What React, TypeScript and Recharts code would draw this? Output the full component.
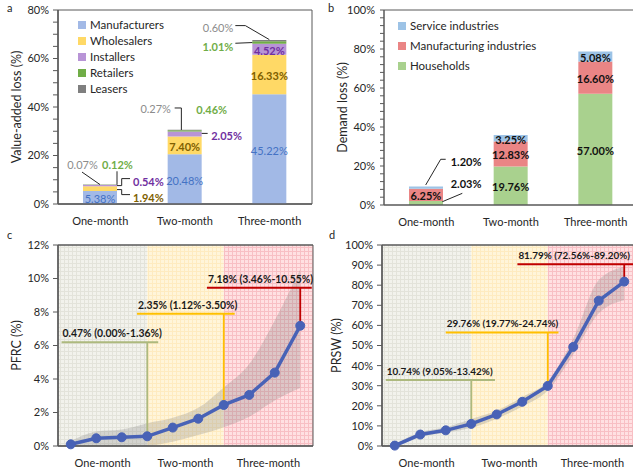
import React from 'react';
import {
  BarChart, Bar, XAxis, YAxis, LabelList, Legend, ReferenceArea, ReferenceLine,
  ComposedChart, Line, Area,
} from 'recharts';

const FONT = 'Lato, "Open Sans", sans-serif';
const AXIS = '#595959';
const TXT = '#262626';

// ---------- Panel a: value-added loss ----------
const periods = ['One-month', 'Two-month', 'Three-month'];
const manufacturers = [5.38, 20.48, 45.22];
const wholesalers = [1.94, 7.4, 16.33];
const installers = [0.54, 2.05, 4.52];
const retailers = [0.12, 0.46, 1.01];
const leasers = [0.07, 0.27, 0.6];
const aTicks = [0, 5, 10, 15, 20, 25, 30, 35, 40, 45, 50, 55, 60, 65, 70, 75, 80];
const aMajor = [0, 20, 40, 60, 80];

// ---------- Panel b: demand loss ----------
const households = [2.03, 19.76, 57.0];
const manufacturingInd = [6.25, 12.83, 16.6];
const serviceInd = [1.2, 3.25, 5.08];
const bTicks = [0, 4, 8, 12, 16, 20, 24, 28, 32, 36, 40, 44, 48, 52, 56, 60, 64, 68, 72, 76, 80, 84, 88, 92, 96, 100];
const bMajor = [0, 20, 40, 60, 80, 100];

// ---------- Panels c, d ----------
const days = [0, 10, 20, 30, 40, 50, 60, 70, 80, 90];
const pfrc = [0.1, 0.46, 0.52, 0.58, 1.1, 1.63, 2.45, 3.05, 4.38, 7.18];
const pfrcLow = [0, 0, 0, 0.02, 0.26, 0.65, 1.12, 1.75, 2.72, 3.46];
const pfrcHigh = [0.3, 0.86, 0.98, 1.36, 1.68, 2.28, 3.5, 4.9, 7.5, 10.55];
const prsw = [0.2, 5.7, 7.8, 11.0, 15.7, 22.0, 29.9, 49.3, 72.3, 81.79];
const prswLow = [0, 4.6, 6.6, 9.05, 13.6, 19.6, 27.6, 45.5, 66.0, 72.56];
const prswHigh = [0.8, 6.8, 9.3, 13.42, 17.6, 24.4, 32.3, 53.5, 82.6, 89.2];
const cTicks = [0, 2, 4, 6, 8, 10, 12];
const dTicks = [0, 10, 20, 30, 40, 50, 60, 70, 80, 90, 100];
const periodBounds = [-5, 30, 60, 95];
const pfrcSummary = ['0.47% (0.00%-1.36%)', '2.35% (1.12%-3.50%)', '7.18% (3.46%-10.55%)'];
const prswSummary = ['10.74% (9.05%-13.42%)', '29.76% (19.77%-24.74%)', '81.79% (72.56%-89.20%)'];
const summaryIdx = [3, 6, 9];

const aData = periods.map((p, i) => ({
  period: p, manufacturers: manufacturers[i], wholesalers: wholesalers[i],
  installers: installers[i], retailers: retailers[i], leasers: leasers[i],
}));
const bData = periods.map((p, i) => ({
  period: p, households: households[i], manufacturing: manufacturingInd[i], service: serviceInd[i],
}));
const cData = days.map((d, i) => ({ day: d, v: pfrc[i], band: [pfrcLow[i], pfrcHigh[i]] }));
const dData = days.map((d, i) => ({ day: d, v: prsw[i], band: [prswLow[i], prswHigh[i]] }));

// ---------- styling config ----------
type Ext = { t: [number, number]; anchor: 'start' | 'middle' | 'end'; path?: [number, number][] } | null;

function makeBarLabel(values: number[], color: string, weight: number, ext: Ext[], lineColor = '#262626') {
  return (props: any) => {
    const vb = props.viewBox && props.viewBox.width !== undefined ? props.viewBox : props;
    const x = Number(vb.x), y = Number(vb.y), w = Number(vb.width), h = Number(vb.height);
    const idx = Number(props.index);
    const cx = x + w / 2;
    const cy = y + h / 2;
    const txt = values[idx].toFixed(2) + '%';
    const e = ext[idx];
    const style = { fontFamily: FONT, fontSize: 11, fontWeight: weight };
    if (!e) {
      return (
        <text x={cx} y={cy + 1} textAnchor="middle" dominantBaseline="central" fill={color} style={style}>{txt}</text>
      );
    }
    const pts = e.path ? e.path.map(([dx, dy]) => `${cx + dx},${cy + dy}`).join(' ') : '';
    return (
      <g>
        {e.path && <polyline points={pts} fill="none" stroke={lineColor} strokeWidth={1} />}
        <text x={cx + e.t[0]} y={cy + e.t[1]} textAnchor={e.anchor} dominantBaseline="central" fill={color} style={style}>{txt}</text>
      </g>
    );
  };
}

const aSeries = [
  { key: 'manufacturers', name: 'Manufacturers', values: manufacturers, fill: '#a2b9e6', color: '#4472c4', weight: 400,
    ext: [null, null, null] as Ext[] },
  { key: 'wholesalers', name: 'Wholesalers', values: wholesalers, fill: '#ffd966', color: '#806000', weight: 700,
    ext: [{ t: [33, 8.5], anchor: 'start', path: [[17, 1], [21.7, 1], [21.7, 6], [30, 6]] }, null, null] as Ext[] },
  { key: 'installers', name: 'Installers', values: installers, fill: '#b894d6', color: '#7030a0', weight: 700,
    ext: [{ t: [33, -4.5], anchor: 'start', path: [[17, 0], [21.7, 0], [21.7, -7], [30, -7]] },
      { t: [26.5, 2], anchor: 'start', path: [[17, -0.5], [23, -0.5]] }, null] as Ext[] },
  { key: 'retailers', name: 'Retailers', values: retailers, fill: '#70ad47', color: '#70ad47', weight: 700,
    ext: [{ t: [17.5, -20.5], anchor: 'middle', path: [[17, -13.5], [17, 0]] },
      { t: [27, -21.5], anchor: 'middle' },
      { t: [-36, 3.5], anchor: 'end', path: [[-34, 0.7], [-17, 0]] }] as Ext[] },
  { key: 'leasers', name: 'Leasers', values: leasers, fill: '#7f7f7f', color: '#8c8c8c', weight: 400,
    ext: [{ t: [-17.5, -20.5], anchor: 'middle', path: [[-18, -12.5], [0, 0]] },
      { t: [-29, -21], anchor: 'middle', path: [[-10, -22], [-3.3, -22], [-3.3, 0]] },
      { t: [-36, -13.3], anchor: 'end', path: [[-34, -15], [-24, -15], [0, -1]] }] as Ext[] },
];

const bSeries = [
  { key: 'households', name: 'Households', values: households, fill: '#a9d18e',
    ext: [{ t: [24.7, -20], anchor: 'start', path: [[16.3, -1.3], [36.3, -9.7]] }, null, null] as Ext[] },
  { key: 'manufacturing', name: 'Manufacturing industries', values: manufacturingInd, fill: '#ea8585',
    ext: [null, null, null] as Ext[] },
  { key: 'service', name: 'Service industries', values: serviceInd, fill: '#9dc3e6',
    ext: [{ t: [24.7, -26], anchor: 'start', path: [[-0.3, -2.7], [14.7, -28.4], [19.7, -28.4]] }, null, null] as Ext[] },
];

const tickStyle = { fontFamily: FONT, fontSize: 11, fill: TXT };

function yTitle(text: string, dx: number) {
  return (props: any) => {
    const vb = props.viewBox;
    const cx = vb.x + dx;
    const cy = vb.y + vb.height / 2;
    return (
      <text x={cx} y={cy} transform={`rotate(-90, ${cx}, ${cy})`} textAnchor="middle" dominantBaseline="central"
        style={{ fontFamily: FONT, fontSize: 12.5, fill: TXT }}>{text}</text>
    );
  };
}

function LegendBox({ items, gap }: { items: { name: string; fill: string }[]; gap: number }) {
  return (
    <div style={{ fontFamily: FONT, fontSize: 11.5, color: TXT, lineHeight: `${gap}px` }}>
      {items.map((it) => (
        <div key={it.name} style={{ display: 'flex', alignItems: 'center', height: gap }}>
          <span style={{ display: 'inline-block', width: 8, height: 8, background: it.fill, marginRight: 4 }} />
          <span>{it.name}</span>
        </div>
      ))}
    </div>
  );
}

function PanelLetter({ ch, x, y }: { ch: string; x: number; y: number }) {
  return (
    <div style={{ position: 'absolute', left: x, top: y, fontFamily: FONT, fontSize: 11, color: TXT, lineHeight: '12px' }}>{ch}</div>
  );
}

function annoLabel(text: string, size: number) {
  return (props: any) => {
    const vb = props.viewBox || {};
    return (
      <text x={vb.x + 1} y={vb.y - 5} style={{ fontFamily: FONT, fontSize: size, fontWeight: 700, fill: '#1a1a1a' }}>{text}</text>
    );
  };
}

const annoColors = ['#adb97e', '#ffc000', '#c00000'];
const cAnno = [
  { y: 6.2, x1: -3.6, x2: 34.3 },
  { y: 7.9, x1: 26, x2: 64.3 },
  { y: 9.45, x1: 53.4, x2: 94.5 },
];
const dAnno = [
  { y: 32.8, x1: -3.5, x2: 39.3 },
  { y: 56.5, x1: 20, x2: 64.2 },
  { y: 90.4, x1: 48.1, x2: 95 },
];

function Patterns() {
  return (
    <defs>
      <pattern id="pGray" width="4" height="4" patternUnits="userSpaceOnUse">
        <rect width="4" height="4" fill="#f2f2ec" />
        <path d="M0 0.5H4M0.5 0V4" stroke="#e3e3da" strokeWidth="1" />
      </pattern>
      <pattern id="pYellow" width="4" height="4" patternUnits="userSpaceOnUse">
        <rect width="4" height="4" fill="#fff5da" />
        <path d="M0 0.5H4M0.5 0V4" stroke="#feebc0" strokeWidth="1" />
      </pattern>
      <pattern id="pRed" width="4" height="4" patternUnits="userSpaceOnUse">
        <rect width="4" height="4" fill="#ffe0e2" />
        <path d="M0 0.5H4M0.5 0V4" stroke="#f8bfc4" strokeWidth="1" />
      </pattern>
    </defs>
  );
}
const bgFills = ['url(#pGray)', 'url(#pYellow)', 'url(#pRed)'];

function LinePanel({ data, values, ticks, ymax, title, titleDx, yWidth, anno, summary, labelSize }: any) {
  const centers = periods.map((_, i) => (periodBounds[i] + periodBounds[i + 1]) / 2);
  return (
    <ComposedChart width={yWidth + 255 + 6} height={240} data={data} margin={{ top: 10, right: 6, bottom: 0, left: 0 }}>
      <Patterns />
      {periods.map((p, i) => (
        <ReferenceArea key={p} x1={periodBounds[i]} x2={periodBounds[i + 1]} y1={0} y2={ymax} fill={bgFills[i]} fillOpacity={1} stroke="none" ifOverflow="visible" />
      ))}
      <XAxis type="number" dataKey="day" domain={[periodBounds[0], periodBounds[3]]} allowDataOverflow
        ticks={centers} interval={0}
        tickFormatter={(v: number) => periods[centers.indexOf(v)] || ''}
        tick={tickStyle} tickLine={false} tickSize={0} tickMargin={13} height={29}
        axisLine={{ stroke: AXIS, strokeWidth: 1.5 }} />
      <YAxis type="number" domain={[0, ymax]} ticks={ticks} interval={0} tickFormatter={(v: number) => `${v}%`} width={yWidth}
        tick={tickStyle} tickSize={5} tickMargin={4} tickLine={{ stroke: AXIS }} axisLine={{ stroke: AXIS, strokeWidth: 1.5 }}
        label={yTitle(title, titleDx)} />
      <Area type="monotone" dataKey="band" stroke="none" fill="#7a7a7a" fillOpacity={0.26} isAnimationActive={false} />
      {anno.map((a: any, i: number) => (
        <ReferenceLine key={'v' + i} segment={[{ x: days[summaryIdx[i]], y: a.y }, { x: days[summaryIdx[i]], y: values[summaryIdx[i]] }]}
          stroke={annoColors[i]} strokeWidth={1.8} ifOverflow="visible" />
      ))}
      {anno.map((a: any, i: number) => (
        <ReferenceLine key={'h' + i} segment={[{ x: a.x1, y: a.y }, { x: a.x2, y: a.y }]}
          stroke={annoColors[i]} strokeWidth={2} ifOverflow="visible" label={annoLabel(summary[i], labelSize)} />
      ))}
      <Line type="linear" dataKey="v" stroke="#4862b6" strokeWidth={3.5}
        dot={{ r: 4.5, fill: '#4862b6', stroke: '#4862b6', strokeWidth: 1 }} activeDot={false} isAnimationActive={false} />
      <ReferenceLine y={ymax} stroke={AXIS} strokeWidth={1} ifOverflow="visible" />
      <ReferenceArea y1={0} y2={ymax} fill="none" stroke={AXIS} strokeWidth={1} ifOverflow="visible" />
    </ComposedChart>
  );
}

export default function App() {
  return (
    <div style={{ position: 'absolute', left: 0, top: 0, width: 633, height: 475, overflow: 'hidden', background: '#fff' }}>
      {/* Panel a */}
      <div style={{ position: 'absolute', left: 0, top: 0 }}>
        <BarChart width={320} height={232} data={aData} margin={{ top: 10, right: 8, bottom: 0, left: 0 }} barSize={34}>
          <XAxis dataKey="period" tick={tickStyle} tickLine={false} tickSize={0} tickMargin={13} height={28}
            axisLine={{ stroke: AXIS, strokeWidth: 1.5 }} />
          <YAxis type="number" domain={[0, 80]} ticks={aTicks} interval={0} width={58}
            tickFormatter={(v: number) => (aMajor.includes(v) ? `${v}%` : '')}
            tick={tickStyle} tickSize={5} tickMargin={4} tickLine={{ stroke: AXIS }} axisLine={{ stroke: AXIS, strokeWidth: 1.5 }}
            label={yTitle('Value-added loss (%)', 16)} />
          <ReferenceArea y1={0} y2={80} fill="none" stroke={AXIS} strokeWidth={1} ifOverflow="visible" />
          {aSeries.map((s) => (
            <Bar key={s.key} dataKey={s.key} name={s.name} stackId="a" fill={s.fill} isAnimationActive={false}>
              <LabelList dataKey={s.key} content={makeBarLabel(s.values, s.color, s.weight, s.ext)} />
            </Bar>
          ))}
          <Legend layout="vertical" align="center" verticalAlign="middle"
            wrapperStyle={{ left: 78, top: 17, width: 'auto', height: 'auto' }}
            content={() => <LegendBox items={aSeries} gap={16} />} />
        </BarChart>
      </div>
      <PanelLetter ch="a" x={7} y={2} />

      {/* Panel b */}
      <div style={{ position: 'absolute', left: 316, top: 0 }}>
        <BarChart width={322} height={233} data={bData} margin={{ top: 10, right: 0, bottom: 0, left: 0 }} barSize={34}>
          <XAxis dataKey="period" tick={tickStyle} tickLine={false} tickSize={0} tickMargin={13} height={28}
            axisLine={{ stroke: AXIS, strokeWidth: 1.5 }} />
          <YAxis type="number" domain={[0, 100]} ticks={bTicks} interval={0} width={68}
            tickFormatter={(v: number) => (bMajor.includes(v) ? `${v}%` : '')}
            tick={tickStyle} tickSize={4} tickMargin={5} tickLine={{ stroke: AXIS }} axisLine={{ stroke: AXIS, strokeWidth: 1.5 }}
            label={yTitle('Demand loss (%)', 26)} />
          <ReferenceLine y={100} stroke={AXIS} strokeWidth={1} ifOverflow="visible" />
          {bSeries.map((s) => (
            <Bar key={s.key} dataKey={s.key} name={s.name} stackId="b" fill={s.fill} isAnimationActive={false}>
              <LabelList dataKey={s.key} content={makeBarLabel(s.values, '#111', 700, s.ext)} />
            </Bar>
          ))}
          <Legend layout="vertical" align="center" verticalAlign="middle"
            wrapperStyle={{ left: 82, top: 16, width: 'auto', height: 'auto' }}
            content={() => <LegendBox items={[...bSeries].reverse()} gap={20} />} />
        </BarChart>
      </div>
      <PanelLetter ch="b" x={328} y={2} />

      {/* Panel c */}
      <div style={{ position: 'absolute', left: 0, top: 235 }}>
        <LinePanel data={cData} values={pfrc} ticks={cTicks} ymax={12} title="PFRC (%)" titleDx={16} yWidth={58}
          anno={cAnno} summary={pfrcSummary} labelSize={10.4} />
      </div>
      <PanelLetter ch="c" x={7} y={229} />

      {/* Panel d */}
      <div style={{ position: 'absolute', left: 316, top: 235 }}>
        <LinePanel data={dData} values={prsw} ticks={dTicks} ymax={100} title="PRSW (%)" titleDx={20} yWidth={66}
          anno={dAnno} summary={prswSummary} labelSize={9.9} />
      </div>
      <PanelLetter ch="d" x={329} y={229} />
    </div>
  );
}
